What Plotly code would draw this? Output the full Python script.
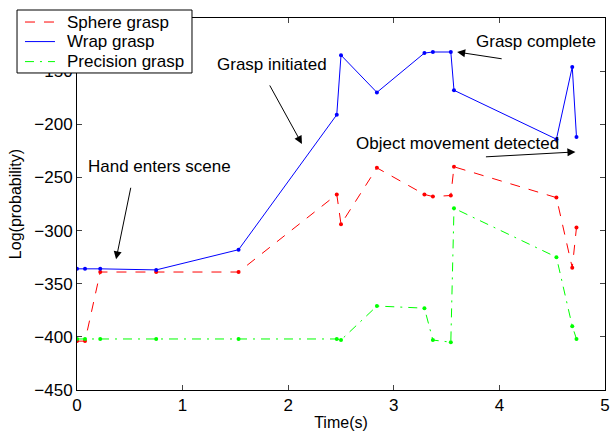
import plotly.graph_objects as go

time_s = [0.0, 0.076, 0.22, 0.75, 1.53, 2.46, 2.50, 2.84, 3.29, 3.37, 3.54, 3.57, 4.54, 4.69, 4.73]
sphere = [-404, -404, -339, -339, -339, -266, -294, -241, -266, -268, -267, -240, -269, -335, -297]
wrap = [-336, -336, -336, -337, -318, -191, -135, -170, -133, -132, -132, -168, -214, -146, -212]
precision = [-402, -402, -402, -402, -402, -402, -403, -371, -373, -403, -405, -279, -325, -390, -402]

series_names = ["Sphere grasp", "Wrap grasp", "Precision grasp"]
series_vals = [sphere, wrap, precision]
colors = ["#ff0000", "#0000ff", "#00ff00"]
dashes = ["10px,9px", "solid", "9px,6px,2px,6px"]

x_ticks = [0, 1, 2, 3, 4, 5]
y_ticks = [-450, -400, -350, -300, -250, -200, -150, -100]

annotations_data = [
    # text, text_x, text_y, head_x, head_y, tail_dx, tail_dy
    ("Hand enters scene", 0.78, -240, 0.37, -327, 15, -73),
    ("Grasp initiated", 1.85, -144, 2.13, -218.5, -33, -60),
    ("Grasp complete", 4.35, -122.5, 3.60, -132, 46, 7),
    ("Object movement detected", 3.60, -218.5, 4.72, -226, -91, 5),
]

FONT = "Liberation Sans, Arial, Helvetica, sans-serif"

fig = go.Figure()
for name, vals, c, d in zip(series_names, series_vals, colors, dashes):
    fig.add_trace(go.Scatter(x=time_s, y=vals, mode="lines", name=name,
                             line=dict(color=c, width=1, dash=d), showlegend=False))
for name, vals, c in zip(series_names, series_vals, colors):
    fig.add_trace(go.Scatter(x=time_s, y=vals, mode="markers", showlegend=False,
                             marker=dict(color=c, size=4), hoverinfo="skip"))

anns = []
for text, tx, ty, hx, hy, dx, dy in annotations_data:
    anns.append(dict(x=hx, y=hy, xref="x", yref="y", text="", showarrow=True,
                     ax=dx, ay=dy, axref="pixel", ayref="pixel",
                     arrowhead=2, arrowsize=1.6, arrowwidth=1, arrowcolor="black",
                     standoff=0, startstandoff=0))
    anns.append(dict(x=tx, y=ty, xref="x", yref="y", text=text, showarrow=False,
                     font=dict(size=17, color="black", family=FONT),
                     xanchor="center", yanchor="middle"))

# Legend box (paper coordinates), drawn on top of the axes
shapes = [dict(type="rect", xref="paper", yref="paper", layer="above",
               x0=-0.1136, x1=0.2178, y0=0.8522, y1=1.0215,
               line=dict(color="black", width=1), fillcolor="white")]
row_y = [0.9892, 0.9366, 0.8828]
for name, c, d, ry in zip(series_names, colors, dashes, row_y):
    shapes.append(dict(type="line", xref="paper", yref="paper", layer="above",
                       x0=-0.0985, x1=-0.0417, y0=ry, y1=ry,
                       line=dict(color=c, width=1, dash=d)))
    anns.append(dict(x=-0.0227, y=ry, xref="paper", yref="paper", text=name,
                     showarrow=False, xanchor="left", yanchor="middle",
                     font=dict(size=17, color="black", family=FONT)))

fig.update_layout(
    width=610, height=435,
    margin=dict(l=77, r=5, t=18, b=45),
    paper_bgcolor="white", plot_bgcolor="white",
    font=dict(family=FONT, size=17, color="black"),
    showlegend=False,
    annotations=anns,
    shapes=shapes,
)
fig.update_xaxes(range=[0, 5], tickvals=x_ticks, ticks="inside", ticklen=5,
                 showline=True, linecolor="black", linewidth=1, mirror="ticks",
                 showgrid=False, zeroline=False, automargin=False,
                 title=dict(text="Time(s)", standoff=2, font=dict(size=16)),
                 tickfont=dict(size=17))
fig.update_yaxes(range=[-450, -100], tickvals=y_ticks, ticks="inside", ticklen=5,
                 showline=True, linecolor="black", linewidth=1, mirror="ticks",
                 showgrid=False, zeroline=False, automargin=False,
                 title=dict(text="Log(probability)", standoff=8, font=dict(size=16)),
                 tickfont=dict(size=17))

fig.write_html("out.html", config={"displayModeBar": False},
               post_script="document.body.style.margin='0';")
